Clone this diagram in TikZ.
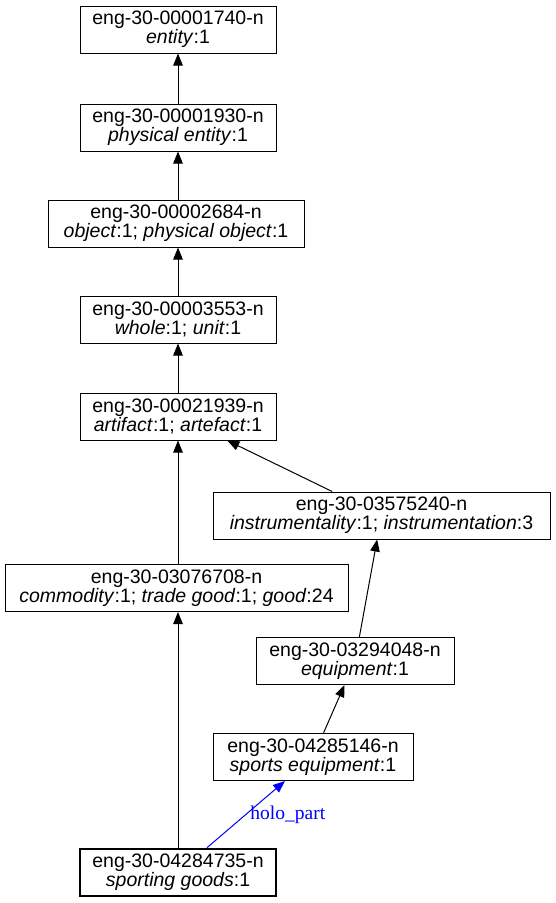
\documentclass[tikz,border=0pt]{standalone}
\usepackage{fontspec}
\setmainfont{Liberation Sans}
\newfontfamily\labelserif{Liberation Serif}
\usetikzlibrary{arrows.meta}
\tikzset{
  syn/.style={draw=black, line width=1pt, rectangle, inner sep=0pt, minimum height=47pt,
    align=center, font=\fontsize{19.5}{19}\selectfont},
  focus/.style={syn, line width=2.5pt},
  hyp/.style={draw=black, line width=1pt, -{Triangle[length=12pt,width=9.5pt]}},
  holo/.style={draw=blue, line width=1pt, -{Triangle[length=12pt,width=9.5pt]}},
  rellabel/.style={text=blue, font=\labelserif\fontsize{19.5}{19}\selectfont, inner sep=0pt}
}
\begin{document}
\begin{tikzpicture}[x=1pt, y=-1pt]
\useasboundingbox (0,0) rectangle (556,903);
\node[syn, minimum width=196pt] (entity) at (178,29.5) {eng-30-00001740-n\\\textit{entity}:1};
\node[syn, minimum width=196pt] (physical) at (178,127.5) {eng-30-00001930-n\\\textit{physical entity}:1};
\node[syn, minimum width=256pt] (object) at (176,223.5) {eng-30-00002684-n\\\textit{object}:1; \textit{physical object}:1};
\node[syn, minimum width=196pt] (whole) at (178,319.5) {eng-30-00003553-n\\\textit{whole}:1; \textit{unit}:1};
\node[syn, minimum width=196pt] (artifact) at (178,416.5) {eng-30-00021939-n\\\textit{artifact}:1; \textit{artefact}:1};
\node[syn, minimum width=337pt] (instr) at (381.5,515.5) {eng-30-03575240-n\\\textit{instrumentality}:1; \textit{instrumentation}:3};
\node[syn, minimum width=343pt] (commodity) at (176.5,588) {eng-30-03076708-n\\\textit{commodity}:1; \textit{trade good}:1; \textit{good}:24};
\node[syn, minimum width=198pt] (equipment) at (355,661) {eng-30-03294048-n\\\textit{equipment}:1};
\node[syn, minimum width=200pt] (sportseq) at (313,757) {eng-30-04285146-n\\\textit{sports equipment}:1};
\node[focus, minimum width=196pt] (goods) at (178,872.5) {eng-30-04284735-n\\\textit{sporting goods}:1};

\draw[hyp] (physical) -- (entity);
\draw[hyp] (physical |- object.north) -- (physical);
\draw[hyp] (whole) -- (whole |- object.south);
\draw[hyp] (artifact) -- (whole);
\draw[hyp] (instr) -- (artifact);
\draw[hyp] (artifact |- commodity.north) -- (artifact);
\draw[hyp] (equipment) -- (instr);
\draw[hyp] (sportseq) -- (equipment);
\draw[hyp] (goods) -- (goods |- commodity.south);
\draw[holo] (goods) -- (sportseq) node[rellabel, pos=0.5, right=4pt] (hololabel) {holo\_part};
\end{tikzpicture}
\end{document}
